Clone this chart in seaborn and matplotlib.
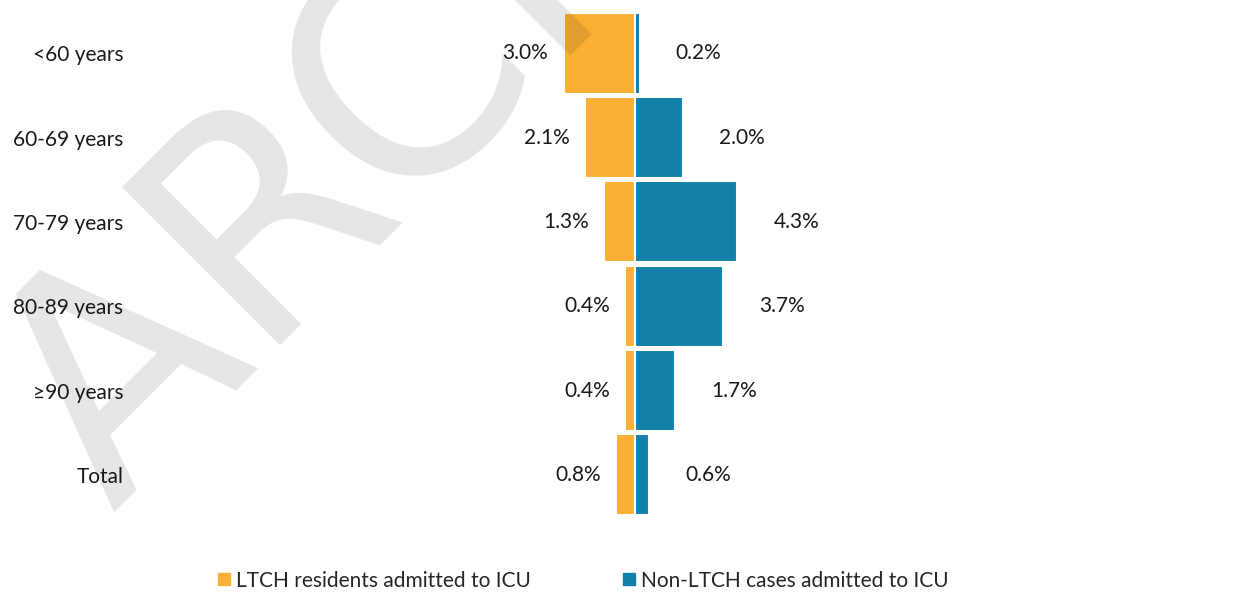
import pandas as pd
import matplotlib
matplotlib.use('Agg')
import matplotlib.pyplot as plt
import seaborn as sns
from matplotlib.lines import Line2D

# Dados: proporção de casos admitidos na UTI por faixa etária
faixas = ['<60 years', '60-69 years', '70-79 years', '80-89 years', '≥90 years', 'Total']
ltch_icu = [3.0, 2.1, 1.3, 0.4, 0.4, 0.8]
non_ltch_icu = [0.2, 2.0, 4.3, 3.7, 1.7, 0.6]

grupos = ['LTCH residents admitted to ICU', 'Non-LTCH cases admitted to ICU']
cores = ['#FBB034', '#1281A9']

sns.set_style('white')
plt.rcParams['font.family'] = ['Lato', 'DejaVu Sans']

df = pd.DataFrame({
    'Faixa': faixas * 2,
    'Valor': [-v for v in ltch_icu] + non_ltch_icu,
    'Grupo': [grupos[0]] * len(faixas) + [grupos[1]] * len(faixas),
})

fig = plt.figure(figsize=(12.52, 5.95), dpi=100)
ax = fig.add_axes([140 / 1252, 1 - 517 / 595, 990 / 1252, 506 / 595])

sns.barplot(data=df, x='Valor', y='Faixa', hue='Grupo', order=faixas, hue_order=grupos,
            palette=cores, saturation=1, dodge=False, width=0.96, orient='h',
            edgecolor='white', linewidth=1.5, legend=False, ax=ax)

ax.set_xlim(-20.8, 20.8)
ax.set_ylim(len(faixas) - 0.5, -0.5)
ax.set_xlabel('')
ax.set_ylabel('')
ax.set_xticks([])
ax.tick_params(axis='y', length=0, pad=12, labelsize=15, labelcolor='#1a1a1a')
sns.despine(ax=ax, left=True, bottom=True)

# rótulos de dados
ax.bar_label(ax.containers[0], labels=[f'{v:.1f}%' for v in ltch_icu],
             padding=11, fontsize=15, color='#1a1a1a')
ax.bar_label(ax.containers[1], labels=[f'{v:.1f}%' for v in non_ltch_icu],
             padding=26, fontsize=15, color='#1a1a1a')

# legenda
handles = [Line2D([], [], marker='s', linestyle='', markersize=8,
                  markerfacecolor=c, markeredgecolor=c) for c in cores]
fig.legend(handles, grupos, loc='center', bbox_to_anchor=(0.465, 0.024), ncol=2,
           frameon=False, fontsize=15, handletextpad=0.2, columnspacing=4.3,
           handlelength=0.8)

# marca d'água
fig.text(112 / 1252, 1 - 512 / 595, 'ARCHIVED', fontsize=220, rotation=45,
         rotation_mode='anchor', ha='left', va='baseline', color='black', alpha=0.1,
         family='DejaVu Sans', zorder=10)

fig.savefig('out.png', dpi=100)
